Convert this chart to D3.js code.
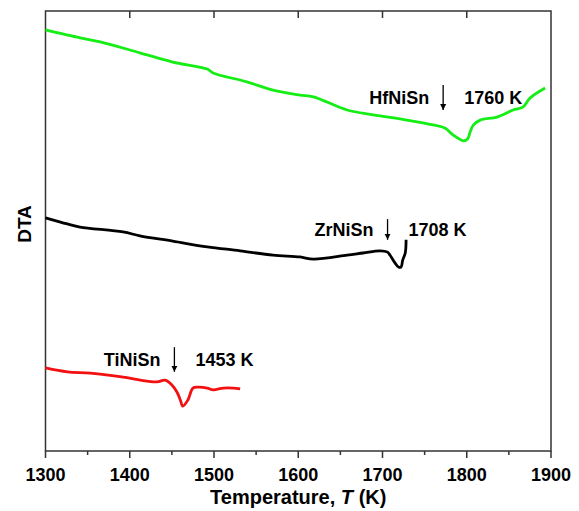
<!DOCTYPE html>
<html>
<head>
<meta charset="utf-8">
<script src="https://cdn.jsdelivr.net/npm/d3@7"></script>
<style>
  body { margin: 0; background: #fff; }
  text { font-family: "Liberation Sans", Arial, sans-serif; font-weight: bold; }
</style>
</head>
<body>
<script>
// DTA traces (T in K, signal in arbitrary units)
const hfT = [1300, 1341, 1365, 1412, 1451, 1492, 1499, 1539, 1570, 1602, 1618, 1658, 1689, 1729, 1760, 1774, 1784, 1796, 1801, 1804, 1808, 1816, 1836, 1855, 1867, 1875, 1893];
const hfV = [95.7, 93.9, 93.0, 90.5, 88.4, 86.8, 85.9, 83.9, 82.0, 80.9, 80.5, 77.5, 76.4, 75.2, 74.1, 73.4, 71.8, 70.5, 70.9, 72.5, 74.1, 75.2, 75.9, 77.5, 78.2, 80.2, 82.5];

const zrT = [1300, 1326, 1341, 1392, 1412, 1451, 1492, 1531, 1570, 1602, 1618, 1658, 1677, 1697, 1706, 1709, 1715, 1719, 1722, 1724, 1727, 1728];
const zrV = [53.0, 51.6, 50.9, 49.8, 48.9, 47.7, 46.4, 45.5, 44.5, 44.1, 43.6, 44.5, 45.0, 45.5, 45.2, 44.5, 42.7, 41.8, 41.8, 43.4, 45.0, 48.0];

const tiT = [1300, 1326, 1353, 1392, 1432, 1442, 1450, 1456, 1460, 1463, 1469, 1475, 1481, 1492, 1499, 1511, 1523, 1531];
const tiV = [18.9, 18.0, 17.7, 16.8, 15.7, 16.1, 15.0, 13.4, 11.6, 10.2, 11.6, 14.3, 14.5, 14.3, 13.9, 14.3, 14.3, 14.1];

const compounds = ["HfNiSn", "ZrNiSn", "TiNiSn"];
const onsetLabels = ["1760 K", "1708 K", "1453 K"];
const arrowT = [1772, 1706, 1453];
const arrowTop = [83.2, 52.7, 23.6];
const arrowBottom = [77.5, 48.0, 18.0];

const W = 579, H = 511;
const margin = { left: 45.5, right: 28, top: 11, bottom: 60 };

const svg = d3.select("body").append("svg")
    .attr("width", W)
    .attr("height", H);

const x = d3.scaleLinear().domain([1300, 1900]).range([margin.left, W - margin.right]);
const y = d3.scaleLinear().domain([0, 100]).range([H - margin.bottom, margin.top]);

// frame
svg.append("rect")
    .attr("x", x(1300)).attr("y", y(100))
    .attr("width", x(1900) - x(1300)).attr("height", y(0) - y(100))
    .attr("fill", "none").attr("stroke", "#333").attr("stroke-width", 1.5);

// bottom axis, majors + minors outward
const majors = d3.range(1300, 1901, 100);
const minors = d3.range(1350, 1900, 100);
const bottom = svg.append("g");
bottom.selectAll("line.maj").data(majors).enter().append("line")
    .attr("x1", d => x(d)).attr("x2", d => x(d))
    .attr("y1", y(0)).attr("y2", y(0) + 7)
    .attr("stroke", "#333").attr("stroke-width", 1.5);
bottom.selectAll("line.min").data(minors).enter().append("line")
    .attr("x1", d => x(d)).attr("x2", d => x(d))
    .attr("y1", y(0)).attr("y2", y(0) + 4)
    .attr("stroke", "#333").attr("stroke-width", 1.5);
bottom.selectAll("text").data(majors).enter().append("text")
    .attr("x", d => x(d)).attr("y", y(0) + 30)
    .attr("text-anchor", "middle")
    .style("font-size", "18px")
    .text(d => d);

// top axis, inward majors
svg.append("g").selectAll("line").data(majors.slice(1, -1)).enter().append("line")
    .attr("x1", d => x(d)).attr("x2", d => x(d))
    .attr("y1", y(100)).attr("y2", y(100) + 7)
    .attr("stroke", "#333").attr("stroke-width", 1.5);

// axis titles
const xt = svg.append("text")
    .attr("x", (x(1300) + x(1900)) / 2).attr("y", 504)
    .attr("text-anchor", "middle")
    .style("font-size", "20px");
xt.append("tspan").text("Temperature, ");
xt.append("tspan").style("font-style", "italic").text("T");
xt.append("tspan").text(" (K)");

svg.append("text")
    .attr("transform", "translate(31," + 224 + ") rotate(-90)")
    .attr("text-anchor", "middle")
    .style("font-size", "19px")
    .text("DTA");

// curves
const line = d3.line()
    .x(d => x(d[0]))
    .y(d => y(d[1]))
    .curve(d3.curveCatmullRom.alpha(0.5));
const series = [
    { t: hfT, v: hfV, color: "#14ee14" },
    { t: zrT, v: zrV, color: "#000" },
    { t: tiT, v: tiV, color: "#f21010" }
];
series.forEach(s => {
    svg.append("path")
        .datum(s.t.map((t, i) => [t, s.v[i]]))
        .attr("d", line)
        .attr("fill", "none")
        .attr("stroke", s.color)
        .attr("stroke-width", 2.8)
        .attr("stroke-linejoin", "round");
});

// arrows + labels
svg.append("defs").append("marker")
    .attr("id", "head")
    .attr("viewBox", "0 0 10 10")
    .attr("refX", 10).attr("refY", 5)
    .attr("markerWidth", 6).attr("markerHeight", 7)
    .attr("markerUnits", "userSpaceOnUse")
    .attr("orient", "auto")
    .append("path").attr("d", "M0,0 L10,5 L0,10 z").attr("fill", "#000");

compounds.forEach((c, i) => {
    const ax = x(arrowT[i]);
    svg.append("line")
        .attr("x1", ax).attr("x2", ax)
        .attr("y1", y(arrowTop[i])).attr("y2", y(arrowBottom[i]))
        .attr("stroke", "#000").attr("stroke-width", 1.3)
        .attr("marker-end", "url(#head)");
    const base = (y(arrowTop[i]) + y(arrowBottom[i])) / 2 + 7;
    svg.append("text")
        .attr("x", ax - 14).attr("y", base)
        .attr("text-anchor", "end")
        .style("font-size", "18px")
        .text(c);
    svg.append("text")
        .attr("x", ax + 21).attr("y", base)
        .style("font-size", "18px")
        .text(onsetLabels[i]);
});
</script>
</body>
</html>
